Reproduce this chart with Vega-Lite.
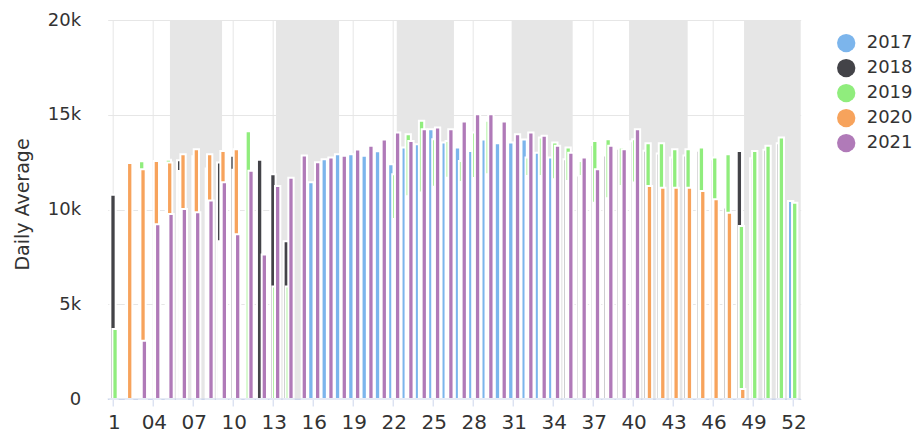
{
  "$schema": "https://vega.github.io/schema/vega-lite/v6.json",
  "width": 693,
  "height": 379,
  "autosize": "none",
  "padding": {"left": 107.7, "top": 20, "right": 120.3, "bottom": 34},
  "config": {
    "view": {"stroke": null},
    "font": "DejaVu Sans",
    "axis": {"labelFont": "DejaVu Sans", "titleFont": "DejaVu Sans"},
    "legend": {"labelFont": "DejaVu Sans"}
  },
  "datasets": {
    "bands": [
      {"start": 5.17, "end": 9.08},
      {"start": 13.13, "end": 17.86},
      {"start": 22.19, "end": 26.48},
      {"start": 30.81, "end": 35.39},
      {"start": 39.62, "end": 44.02},
      {"start": 48.25, "end": 52.5}
    ],
    "weekly": [
      {"week": 16, "year": "2017", "value": 11440},
      {"week": 17, "year": "2017", "value": 12650},
      {"week": 18, "year": "2017", "value": 12920},
      {"week": 19, "year": "2017", "value": 12920},
      {"week": 20, "year": "2017", "value": 12830},
      {"week": 21, "year": "2017", "value": 13070},
      {"week": 22, "year": "2017", "value": 12390},
      {"week": 23, "year": "2017", "value": 13270},
      {"week": 24, "year": "2017", "value": 13440},
      {"week": 25, "year": "2017", "value": 14240},
      {"week": 26, "year": "2017", "value": 13530},
      {"week": 27, "year": "2017", "value": 13270},
      {"week": 28, "year": "2017", "value": 13090},
      {"week": 29, "year": "2017", "value": 13690},
      {"week": 30, "year": "2017", "value": 13500},
      {"week": 31, "year": "2017", "value": 13530},
      {"week": 32, "year": "2017", "value": 13690},
      {"week": 33, "year": "2017", "value": 13000},
      {"week": 34, "year": "2017", "value": 12740},
      {"week": 52, "year": "2017", "value": 10450},

      {"week": 1, "year": "2018", "value": 10780},
      {"week": 6, "year": "2018", "value": 12600},
      {"week": 9, "year": "2018", "value": 12480},
      {"week": 10, "year": "2018", "value": 12830},
      {"week": 12, "year": "2018", "value": 12630},
      {"week": 13, "year": "2018", "value": 11860},
      {"week": 14, "year": "2018", "value": 8330},
      {"week": 35, "year": "2018", "value": 12650},
      {"week": 36, "year": "2018", "value": 11800},
      {"week": 37, "year": "2018", "value": 13400},
      {"week": 38, "year": "2018", "value": 12850},
      {"week": 39, "year": "2018", "value": 13200},
      {"week": 40, "year": "2018", "value": 13600},
      {"week": 41, "year": "2018", "value": 13100},
      {"week": 42, "year": "2018", "value": 12950},
      {"week": 43, "year": "2018", "value": 12750},
      {"week": 44, "year": "2018", "value": 12850},
      {"week": 45, "year": "2018", "value": 13100},
      {"week": 46, "year": "2018", "value": 12650},
      {"week": 47, "year": "2018", "value": 10100},
      {"week": 48, "year": "2018", "value": 13090},
      {"week": 49, "year": "2018", "value": 12700},
      {"week": 50, "year": "2018", "value": 13150},
      {"week": 51, "year": "2018", "value": 13500},

      {"week": 1, "year": "2019", "value": 3700},
      {"week": 2, "year": "2019", "value": 12250},
      {"week": 3, "year": "2019", "value": 12550},
      {"week": 5, "year": "2019", "value": 12630},
      {"week": 6, "year": "2019", "value": 12030},
      {"week": 7, "year": "2019", "value": 12810},
      {"week": 8, "year": "2019", "value": 12160},
      {"week": 9, "year": "2019", "value": 8330},
      {"week": 10, "year": "2019", "value": 12100},
      {"week": 11, "year": "2019", "value": 14130},
      {"week": 13, "year": "2019", "value": 5940},
      {"week": 14, "year": "2019", "value": 5940},
      {"week": 22, "year": "2019", "value": 11860},
      {"week": 23, "year": "2019", "value": 13970},
      {"week": 24, "year": "2019", "value": 14680},
      {"week": 25, "year": "2019", "value": 13710},
      {"week": 26, "year": "2019", "value": 13620},
      {"week": 27, "year": "2019", "value": 12560},
      {"week": 28, "year": "2019", "value": 14060},
      {"week": 29, "year": "2019", "value": 14680},
      {"week": 32, "year": "2019", "value": 12740},
      {"week": 33, "year": "2019", "value": 13800},
      {"week": 34, "year": "2019", "value": 13530},
      {"week": 35, "year": "2019", "value": 13270},
      {"week": 36, "year": "2019", "value": 12560},
      {"week": 37, "year": "2019", "value": 13620},
      {"week": 38, "year": "2019", "value": 13710},
      {"week": 39, "year": "2019", "value": 13270},
      {"week": 40, "year": "2019", "value": 13710},
      {"week": 41, "year": "2019", "value": 13500},
      {"week": 42, "year": "2019", "value": 13500},
      {"week": 43, "year": "2019", "value": 13180},
      {"week": 44, "year": "2019", "value": 13180},
      {"week": 45, "year": "2019", "value": 13270},
      {"week": 46, "year": "2019", "value": 12740},
      {"week": 47, "year": "2019", "value": 12920},
      {"week": 48, "year": "2019", "value": 9130},
      {"week": 49, "year": "2019", "value": 13090},
      {"week": 50, "year": "2019", "value": 13360},
      {"week": 51, "year": "2019", "value": 13800},
      {"week": 52, "year": "2019", "value": 10360},

      {"week": 2, "year": "2020", "value": 12460},
      {"week": 3, "year": "2020", "value": 12120},
      {"week": 4, "year": "2020", "value": 12560},
      {"week": 5, "year": "2020", "value": 12480},
      {"week": 6, "year": "2020", "value": 12920},
      {"week": 7, "year": "2020", "value": 13180},
      {"week": 8, "year": "2020", "value": 12920},
      {"week": 9, "year": "2020", "value": 13090},
      {"week": 10, "year": "2020", "value": 13180},
      {"week": 22, "year": "2020", "value": 9500},
      {"week": 23, "year": "2020", "value": 10700},
      {"week": 24, "year": "2020", "value": 10900},
      {"week": 25, "year": "2020", "value": 11200},
      {"week": 26, "year": "2020", "value": 11680},
      {"week": 27, "year": "2020", "value": 11450},
      {"week": 28, "year": "2020", "value": 11660},
      {"week": 29, "year": "2020", "value": 11860},
      {"week": 32, "year": "2020", "value": 11770},
      {"week": 33, "year": "2020", "value": 11770},
      {"week": 34, "year": "2020", "value": 11590},
      {"week": 35, "year": "2020", "value": 11500},
      {"week": 36, "year": "2020", "value": 11770},
      {"week": 37, "year": "2020", "value": 10360},
      {"week": 38, "year": "2020", "value": 10600},
      {"week": 39, "year": "2020", "value": 11240},
      {"week": 40, "year": "2020", "value": 11420},
      {"week": 41, "year": "2020", "value": 11240},
      {"week": 42, "year": "2020", "value": 11150},
      {"week": 43, "year": "2020", "value": 11150},
      {"week": 44, "year": "2020", "value": 11150},
      {"week": 45, "year": "2020", "value": 10980},
      {"week": 46, "year": "2020", "value": 10540},
      {"week": 47, "year": "2020", "value": 9830},
      {"week": 48, "year": "2020", "value": 530},

      {"week": 3, "year": "2021", "value": 3080},
      {"week": 4, "year": "2021", "value": 9220},
      {"week": 5, "year": "2021", "value": 9760},
      {"week": 6, "year": "2021", "value": 10030},
      {"week": 7, "year": "2021", "value": 9850},
      {"week": 8, "year": "2021", "value": 10470},
      {"week": 9, "year": "2021", "value": 11440},
      {"week": 10, "year": "2021", "value": 8690},
      {"week": 11, "year": "2021", "value": 12040},
      {"week": 12, "year": "2021", "value": 7630},
      {"week": 13, "year": "2021", "value": 11240},
      {"week": 14, "year": "2021", "value": 11680},
      {"week": 15, "year": "2021", "value": 12850},
      {"week": 16, "year": "2021", "value": 12490},
      {"week": 17, "year": "2021", "value": 12740},
      {"week": 18, "year": "2021", "value": 12830},
      {"week": 19, "year": "2021", "value": 13160},
      {"week": 20, "year": "2021", "value": 13360},
      {"week": 21, "year": "2021", "value": 13690},
      {"week": 22, "year": "2021", "value": 14060},
      {"week": 23, "year": "2021", "value": 13620},
      {"week": 24, "year": "2021", "value": 14240},
      {"week": 25, "year": "2021", "value": 14330},
      {"week": 26, "year": "2021", "value": 14240},
      {"week": 27, "year": "2021", "value": 14640},
      {"week": 28, "year": "2021", "value": 15030},
      {"week": 29, "year": "2021", "value": 15030},
      {"week": 30, "year": "2021", "value": 14640},
      {"week": 31, "year": "2021", "value": 13970},
      {"week": 32, "year": "2021", "value": 14060},
      {"week": 33, "year": "2021", "value": 13890},
      {"week": 34, "year": "2021", "value": 13360},
      {"week": 35, "year": "2021", "value": 13000},
      {"week": 36, "year": "2021", "value": 12740},
      {"week": 37, "year": "2021", "value": 12120},
      {"week": 38, "year": "2021", "value": 13360},
      {"week": 39, "year": "2021", "value": 13180},
      {"week": 40, "year": "2021", "value": 14240}
    ]
  },
  "layer": [
    {
      "data": {"name": "bands"},
      "mark": {"type": "rect", "color": "#e6e6e6"},
      "encoding": {
        "x": {"field": "start", "type": "quantitative", "scale": {"domain": [0.5, 52.5], "nice": false, "zero": false}, "axis": null},
        "x2": {"field": "end"}
      }
    },
    {
      "data": {"name": "weekly"},
      "mark": {"type": "bar", "width": 5.3, "stroke": "white", "strokeWidth": 2},
      "encoding": {
        "x": {
          "field": "week", "type": "ordinal",
          "scale": {"domain": [1,2,3,4,5,6,7,8,9,10,11,12,13,14,15,16,17,18,19,20,21,22,23,24,25,26,27,28,29,30,31,32,33,34,35,36,37,38,39,40,41,42,43,44,45,46,47,48,49,50,51,52], "paddingInner": 0.443, "paddingOuter": 0.2215},
          "axis": {
            "title": null, "values": [1,4,7,10,13,16,19,22,25,28,31,34,37,40,43,46,49,52],
            "labelExpr": "datum.value == 1 ? '1' : (datum.value < 10 ? '0' + datum.value : '' + datum.value)",
            "labelAngle": 0, "labelFontSize": 20, "labelColor": "#333333", "labelPadding": 6,
            "tickColor": "#ccd6eb", "tickSize": 7, "domainColor": "#ccd6eb",
            "grid": true, "gridColor": "#e6e6e6", "bandPosition": 0.355
          }
        },
        "xOffset": {"field": "year", "type": "nominal", "scale": {"domain": ["2017", "g1", "g2", "2018", "g3", "g4", "2019", "g5", "2020", "g6", "2021"], "paddingInner": 0, "paddingOuter": 0}},
        "y": {
          "field": "value", "type": "quantitative",
          "scale": {"domain": [0, 20000], "nice": false},
          "axis": {
            "values": [0, 5000, 10000, 15000, 20000],
            "labelExpr": "datum.value == 0 ? '0' : (datum.value / 1000) + 'k'",
            "domain": false, "ticks": false, "tickSize": 0, "labelPadding": 27,
            "labelFontSize": 18, "labelColor": "#333333", "gridColor": "#e6e6e6",
            "title": "Daily Average", "titleFontSize": 19, "titleFontWeight": "normal", "titleColor": "#333333",
            "titleX": -85, "titleY": 184, "titleAngle": 270, "titleBaseline": "middle", "titleAlign": "center"
          }
        },
        "color": {
          "field": "year", "type": "nominal",
          "scale": {"domain": ["2017", "2018", "2019", "2020", "2021"], "range": ["#7cb5ec", "#434348", "#90ed7d", "#f7a35c", "#b07ab8"]},
          "legend": {
            "title": null, "orient": "none", "legendX": 729, "legendY": 13.6, "direction": "vertical",
            "symbolType": "circle", "symbolSize": 336, "symbolStrokeWidth": 0, "symbolOpacity": 1,
            "labelFontSize": 18, "labelColor": "#333333", "rowPadding": 6, "labelOffset": 11, "padding": 0
          }
        }
      }
    },
    {
      "data": {"values": [{}]},
      "mark": {"type": "rule", "color": "#ccd6eb", "strokeWidth": 1},
      "encoding": {"y": {"datum": 0}}
    }
  ],
  "resolve": {"scale": {"x": "independent"}, "axis": {"x": "independent"}}
}
